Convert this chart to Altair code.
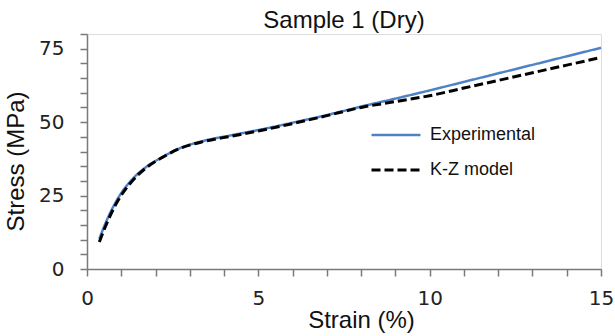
import altair as alt
import pandas as pd

strain = [0.36, 0.6, 0.9, 1.3, 1.7, 2.2, 2.75, 3.4, 4.2, 5.0, 6.0, 7.0, 8.0, 9.0, 10.0, 11.0, 12.0, 13.0, 14.0, 15.0]
experimental = [10.3, 17.2, 24.0, 30.3, 34.5, 38.1, 41.3, 43.6, 45.5, 47.3, 49.8, 52.4, 55.3, 58.0, 60.8, 63.7, 66.6, 69.5, 72.4, 75.3]
kz_model = [9.2, 16.2, 23.2, 29.7, 34.2, 38.0, 41.2, 43.4, 45.2, 47.0, 49.5, 52.2, 55.0, 57.0, 59.0, 61.6, 64.2, 66.8, 69.4, 72.0]

series_names = ["Experimental", "K-Z model"]
x_ticks = list(range(0, 16))
y_ticks = list(range(0, 81, 5))

rows = []
for name, vals in zip(series_names, [experimental, kz_model]):
    for s, v in zip(strain, vals):
        rows.append({"strain": s, "stress": v, "series": name})
df = pd.DataFrame(rows)

chart = alt.Chart(df).mark_line(interpolate="monotone").encode(
    x=alt.X("strain:Q", title="Strain (%)",
            scale=alt.Scale(domain=[0, 15], nice=False, zero=False),
            axis=alt.Axis(values=x_ticks, labelExpr="datum.value % 5 == 0 ? datum.label : ''",
                          labelPadding=12, titlePadding=0, titleX=274, labelFlush=False)),
    y=alt.Y("stress:Q", title="Stress (MPa)",
            scale=alt.Scale(domain=[0, 80], nice=False),
            axis=alt.Axis(values=y_ticks, labelExpr="datum.value % 25 == 0 ? datum.label : ''",
                          labelPadding=16, titlePadding=10, titleY=127)),
    color=alt.Color("series:N", title=None,
                    scale=alt.Scale(domain=series_names, range=["#4f81c7", "#000000"]),
                    legend=alt.Legend(orient="none", legendX=283, legendY=75,
                                      symbolType="stroke", symbolSize=2400, symbolStrokeWidth=2.75,
                                      labelFont="Liberation Sans", labelFontSize=18,
                                      labelColor="#111111", labelOffset=8, rowPadding=-23)),
    strokeDash=alt.StrokeDash("series:N", title=None,
                              scale=alt.Scale(domain=series_names, range=[[1, 0], [9, 4]])),
    strokeWidth=alt.StrokeWidth("series:N", legend=None,
                                scale=alt.Scale(domain=series_names, range=[2.5, 3])),
).properties(
    width=514,
    height=235,
    title=alt.TitleParams("Sample 1 (Dry)", font="Liberation Sans", fontSize=24,
                          fontWeight="normal", color="#111111", offset=0),
    autosize=alt.AutoSizeParams(type="none"),
    padding={"left": 87, "top": 34, "right": 14, "bottom": 67},
).configure_view(stroke=None).configure(background="white").configure_axis(
    grid=False,
    domainColor="#7a7a7a",
    domainWidth=1.5,
    ticks=True,
    tickColor="#7a7a7a",
    tickWidth=1.5,
    tickSize=7,
    labelFont="DejaVu Sans",
    labelFontSize=20,
    labelColor="#222222",
    titleFont="Liberation Sans",
    titleFontSize=24,
    titleFontWeight="normal",
    titleColor="#111111",
)

chart.save("out.html", embed_options={"renderer": "svg", "actions": False})
